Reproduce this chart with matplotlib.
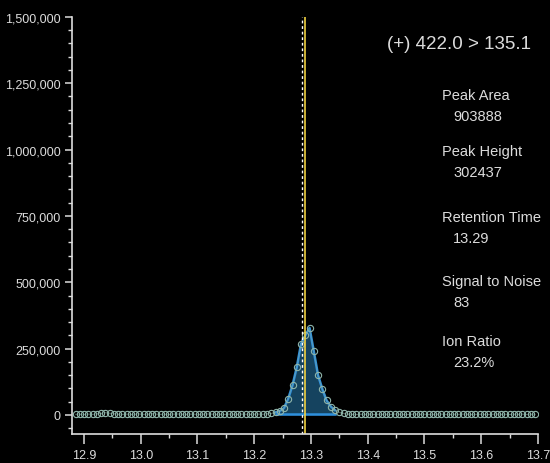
import matplotlib.pyplot as plt
from matplotlib.ticker import MultipleLocator, FuncFormatter
import numpy as np

# scan times (min), evenly spaced acquisition
t_start = 12.885
t_step = 0.0075

# intensities, one per scan
baseline_left = [2500, 3000, 2000, 3500, 2500, 4000, 6000, 9000, 7000, 4500,
                 3000, 2500, 3500, 2000, 3000, 4000, 2500, 3000, 5000, 3500,
                 2500, 3000, 2000, 3500, 4000, 3000, 2500, 3500, 3000, 2000,
                 3000, 4000, 3500, 2500, 3000, 2000, 3500, 3000, 2500, 3500,
                 3000, 2500, 3000, 3500]
peak = [3000, 4000, 6000, 10000, 15000, 26000, 62000, 112000, 180000, 268000,
        300000, 328000, 240000, 150000, 98000, 55000, 32000, 18000, 10000, 6000,
        3000]
baseline_right = [2500, 2000, 3000, 2500, 3500, 2000, 3000, 2500, 3000, 2000,
                  3500, 3000, 2500, 2000, 3000, 3500, 2500, 3000, 2000, 2500,
                  3000, 3500, 2500, 2000, 3000, 2500, 3500, 3000, 2000, 2500,
                  3000, 2500, 2000, 3000, 3500, 2500, 3000, 2000, 3000, 2500,
                  3500, 2000, 3000, 2500]
intensity = np.array(baseline_left + peak + baseline_right, dtype=float)
times = t_start + t_step * np.arange(len(intensity))

# integration window and markers
peak_start = 13.2375
peak_end = 13.3425
apex_marker = 13.284
retention_time = 13.289

title = "(+) 422.0 > 135.1"
stats = [("Peak Area", "903888"),
         ("Peak Height", "302437"),
         ("Retention Time", "13.29"),
         ("Signal to Noise", "83"),
         ("Ion Ratio", "23.2%")]
stat_rows_y = [0.813, 0.679, 0.520, 0.367, 0.223]  # axes fraction

plt.rcParams['font.family'] = ['Liberation Sans', 'DejaVu Sans']
fg = "#dcdcdc"

fig = plt.figure(figsize=(5.5, 4.64), dpi=100, facecolor="black")
ax = fig.add_axes([0.131, 0.0625, 0.847, 0.899], facecolor="black")

in_peak = (times >= peak_start - 1e-9) & (times <= peak_end + 1e-9)
ax.fill_between(times[in_peak], 0, intensity[in_peak], color="#1d5a80", alpha=0.75, lw=0)
ax.plot(times[in_peak], intensity[in_peak], color="#2e8fdc", lw=1.8)
ax.plot([peak_start, peak_end], [3000, 3000], color="#2e8fdc", lw=1.8)
ax.plot(times, intensity, color="#7fa89c", lw=0.6, alpha=0.6)
ax.plot(times, intensity, "o", ms=4.5, mfc="none", mec="#8fb5aa", mew=0.8)

ax.axvline(apex_marker, color="white", lw=1.0, ls=(0, (2, 2)))
ax.axvline(retention_time, color="#f0d040", lw=1.2)

ax.set_xlim(12.8789, 13.7)
ax.set_ylim(-71600, 1500000)

for side in ["top", "right"]:
    ax.spines[side].set_visible(False)
for side in ["left", "bottom"]:
    ax.spines[side].set_color(fg)
    ax.spines[side].set_linewidth(1.2)

ax.xaxis.set_major_locator(MultipleLocator(0.1))
ax.xaxis.set_minor_locator(MultipleLocator(0.05))
ax.yaxis.set_major_locator(MultipleLocator(250000))
ax.yaxis.set_minor_locator(MultipleLocator(50000))
ax.yaxis.set_major_formatter(FuncFormatter(lambda v, p: f"{int(v):,}"))
ax.xaxis.set_major_formatter(FuncFormatter(lambda v, p: f"{v:.1f}"))
ax.tick_params(axis="both", which="major", colors=fg, labelcolor=fg, labelsize=9, width=1.1)
ax.tick_params(axis="x", which="major", length=7, pad=4)
ax.tick_params(axis="y", which="major", length=5, pad=3)
ax.tick_params(axis="both", which="minor", colors=fg, length=3, width=1.0)

ax.text(0.985, 0.935, title, transform=ax.transAxes, ha="right", va="center",
        color=fg, fontsize=13.5)
for (lab, val), y in zip(stats, stat_rows_y):
    ax.text(0.795, y, lab, transform=ax.transAxes, ha="left", va="center",
            color=fg, fontsize=10.5)
    ax.text(0.818, y - 0.05, val, transform=ax.transAxes, ha="left", va="center",
            color=fg, fontsize=10.5)

fig.savefig("out.png", dpi=100, facecolor="black")
